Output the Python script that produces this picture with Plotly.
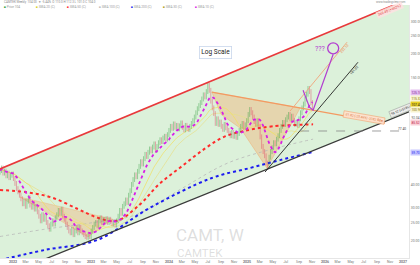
import pandas as pd
import plotly.graph_objects as go

# ---------------- data ----------------
closes = [
    47.5, 49.0, 46.0, 47.2,                 # Nov 2021
    44.5, 46.0, 43.5, 44.8, 45.5,           # Dec
    43.0, 40.5, 38.0, 36.5,                 # Jan 2022
    35.0, 33.5, 31.5, 32.5,                 # Feb
    30.5, 32.5, 34.0, 31.0, 30.2,           # Mar
    31.5, 29.5, 30.5, 28.5,                 # Apr
    27.0, 25.5, 27.5, 26.0, 27.0,           # May
    25.0, 24.0, 23.0, 24.5,                 # Jun
    25.5, 24.5, 26.5, 27.5,                 # Jul
    29.0, 28.0, 29.5, 27.0, 26.0,           # Aug
    24.5, 23.5, 22.5, 22.0,                 # Sep
    23.0, 21.5, 22.5, 23.5, 22.0,           # Oct
    23.5, 22.5, 22.0, 21.5,                 # Nov
    21.0, 20.8, 21.5, 21.0,                 # Dec
    22.5, 23.5, 24.5, 25.0, 24.0,           # Jan 2023
    25.5, 26.5, 25.0, 26.0,                 # Feb
    25.5, 26.2, 25.0, 26.0,                 # Mar
    25.2, 24.5, 25.0, 24.2, 25.5,           # Apr
    27.0, 29.0, 28.0, 30.5,                 # May
    31.5, 33.0, 32.0, 35.0,                 # Jun
    37.0, 40.0, 42.5, 45.0, 44.0,           # Jul
    47.0, 50.0, 53.0, 51.5,                 # Aug
    55.0, 58.0, 56.5, 59.5,                 # Sep
    62.0, 60.5, 63.5, 66.0, 61.0,           # Oct
    64.0, 67.0, 69.5, 68.0,                 # Nov
    71.0, 72.5, 70.0, 74.0,                 # Dec
    78.0, 82.0, 80.0, 84.5, 81.0,           # Jan 2024
    83.0, 79.5, 82.5, 85.5,                 # Feb
    81.0, 78.5, 83.0, 80.0,                 # Mar
    79.0, 82.0, 85.0, 88.0, 92.0,           # Apr
    97.0, 102.0, 106.0, 110.0,              # May
    115.0, 121.0, 118.0, 126.0,             # Jun
    136.0, 128.0, 112.0, 103.0, 96.0,       # Jul
    85.0, 90.0, 84.0, 86.5,                 # Aug
    82.0, 79.0, 84.0, 80.5,                 # Sep
    78.0, 75.0, 73.0, 76.0, 72.5,           # Oct
    74.0, 71.5, 75.0, 78.0,                 # Nov
    82.0, 85.0, 81.0, 83.5,                 # Dec
    88.0, 95.0, 101.0, 97.0, 92.0,          # Jan 2025
    87.0, 84.0, 88.0, 82.0,                 # Feb
    72.0, 64.0, 60.0, 57.0,                 # Mar
    52.0, 50.0, 56.0, 60.0, 63.0,           # Apr
    67.0, 66.0, 70.0, 73.0,                 # May
    78.0, 82.0, 86.0, 84.0,                 # Jun
    89.0, 92.0, 95.0, 90.0, 93.0,           # Jul
    88.0, 84.0, 86.0, 83.0,                 # Aug
    90.0, 97.0, 103.0, 108.0,               # Sep
    115.0, 122.0, 131.0, 126.0, 110.0,      # Oct
    104.0,                                  # Nov
]
first_open = 46.5

red_ma_dates = ["2021-11-01", "2022-03-01", "2022-07-01", "2022-11-01", "2023-02-01",
                "2023-05-01", "2023-08-15", "2023-11-15", "2024-03-01", "2024-06-15",
                "2024-09-15", "2025-01-01", "2025-05-01", "2025-11-06"]
red_ma_vals = [37.3, 36.4, 34.0, 29.5, 26.5, 25.5, 31.0, 40.0, 50.0, 62.0,
               72.0, 78.0, 82.0, 84.0]

blue_ma_dates = ["2021-11-01", "2022-05-31", "2023-01-29", "2023-10-05", "2024-07-20",
                 "2025-01-15", "2025-06-04", "2025-11-06"]
blue_ma_vals = [15.7, 17.8, 20.1, 30.0, 43.3, 49.0, 54.0, 59.7]

grey_ma_dates = ["2021-11-01", "2022-06-01", "2023-01-15", "2023-08-01", "2024-03-01",
                 "2024-10-01", "2025-05-01", "2025-11-06"]
grey_ma_vals = [21.0, 23.0, 25.0, 27.5, 38.0, 52.0, 62.0, 70.0]

upper_ch_dates = ["2021-11-01", "2027-01-29"]
upper_ch_vals = [48.4, 397.0]
lower_ch_dates = ["2022-05-31", "2027-01-29"]
lower_ch_vals = [15.9, 98.0]

neck_dates = ["2024-07-20", "2026-10-08"]
neck_vals = [125.0, 85.4]

steep_dates = ["2025-03-26", "2026-06-04"]
steep_vals = [46.6, 181.0]
upper_wedge_dates = ["2025-07-21", "2026-04-14"]
upper_wedge_vals = [99.0, 232.0]

support_dates = ["2025-09-06", "2026-12-17"]
support_vals = [77.4, 77.4]

tri_big_dates = ["2024-07-20", "2024-09-01", "2024-12-01", "2025-04-04", "2025-09-06"]
tri_big_vals = [125.0, 95.0, 80.0, 48.9, 102.8]
tri_small_dates = ["2022-02-03", "2023-04-14", "2022-12-18"]
tri_small_vals = [34.2, 26.0, 20.9]

proj_dates = ["2025-09-20", "2025-10-20", "2025-11-06", "2026-02-08"]
proj_vals = [128.0, 104.0, 100.0, 200.0]
target_date = ["2026-02-08"]
target_val = [215.0]

y_ticks = [20, 25, 30, 40, 150, 200, 250, 300]

# last-value tags on the price scale
tag_vals = [125.0, 115.0, 107.5, 101.0, 92.0, 85.5, 59.7]
tag_texts = ["125.10", "115.32", "107.48", "100.96", "92.04", "85.52", "59.70"]

# ---------------- build ----------------
dates = pd.date_range("2021-11-01", periods=len(closes), freq="W-MON")
s = pd.Series(closes, index=dates)
opens = [first_open] + closes[:-1]
wick = 0.03
highs = [max(o, c) * (1 + wick) for o, c in zip(opens, closes)]
lows = [min(o, c) * (1 - wick) for o, c in zip(opens, closes)]
ma10 = s.rolling(10, min_periods=1).mean()
ma20 = s.rolling(20, min_periods=1).mean()
ma30 = s.rolling(30, min_periods=1).mean()

UP, DN = "#2f9e3a", "#e0375a"

fig = go.Figure()

# green channel fill
fig.add_trace(go.Scatter(
    x=[upper_ch_dates[0], upper_ch_dates[1], lower_ch_dates[1], lower_ch_dates[0], upper_ch_dates[0]],
    y=[upper_ch_vals[0], upper_ch_vals[1], lower_ch_vals[1], lower_ch_vals[0], lower_ch_vals[0] * 0.9],
    fill="toself", fillcolor="#dcf1da", line=dict(width=0), mode="lines", hoverinfo="skip"))

# tan pattern fills
fig.add_trace(go.Scatter(x=tri_big_dates + tri_big_dates[:1], y=tri_big_vals + tri_big_vals[:1],
                         fill="toself", fillcolor="rgba(240,180,120,0.45)",
                         line=dict(width=0.6, color="rgba(240,170,110,0.8)"), mode="lines"))
fig.add_trace(go.Scatter(x=tri_small_dates + tri_small_dates[:1], y=tri_small_vals + tri_small_vals[:1],
                         fill="toself", fillcolor="rgba(240,180,120,0.4)",
                         line=dict(width=0.5, color="rgba(240,170,110,0.7)"), mode="lines"))

# MAs
fig.add_trace(go.Scatter(x=grey_ma_dates, y=grey_ma_vals, mode="lines", line_shape="spline",
                         line=dict(color="#b8b8b8", width=0.8, dash="dot")))
fig.add_trace(go.Scatter(x=dates, y=ma30, mode="lines", line=dict(color="#e6e08a", width=0.7)))
fig.add_trace(go.Scatter(x=dates, y=ma20, mode="lines", line=dict(color="#f0e060", width=0.7)))
fig.add_trace(go.Scatter(x=blue_ma_dates, y=blue_ma_vals, mode="lines", line_shape="spline",
                         line=dict(color="#1c1cf0", width=2, dash="dot")))
fig.add_trace(go.Scatter(x=red_ma_dates, y=red_ma_vals, mode="lines", line_shape="spline",
                         line=dict(color="#ff2b2b", width=2, dash="dot")))

# candles: wicks + bodies
for want_up, col in ((True, UP), (False, DN)):
    wx, wy, bx, bb, bh = [], [], [], [], []
    for d, o, h, l, c in zip(dates, opens, highs, lows, closes):
        if (c >= o) != want_up:
            continue
        wx += [d, d, None]
        wy += [l, h, None]
        bx.append(d)
        bb.append(min(o, c))
        bh.append(max(abs(c - o), min(o, c) * 0.006))
    fig.add_trace(go.Scatter(x=wx, y=wy, mode="lines", line=dict(color=col, width=0.6),
                             opacity=0.7, hoverinfo="skip"))
    fig.add_trace(go.Bar(x=bx, y=bh, base=bb, marker=dict(color=col, line=dict(width=0)),
                         width=4.2 * 86400000))
fig.add_trace(go.Scatter(x=dates, y=ma10, mode="lines",
                         line=dict(color="#d81ee8", width=1.8, dash="dot")))

# channel lines
fig.add_trace(go.Scatter(x=upper_ch_dates, y=upper_ch_vals, mode="lines",
                         line=dict(color="#e8393b", width=1.6)))
fig.add_trace(go.Scatter(x=lower_ch_dates, y=lower_ch_vals, mode="lines",
                         line=dict(color="#3a3a3a", width=1.3)))
fig.add_trace(go.Scatter(x=neck_dates, y=neck_vals, mode="lines",
                         line=dict(color="#f39a62", width=1.3)))
fig.add_trace(go.Scatter(x=steep_dates, y=steep_vals, mode="lines",
                         line=dict(color="#222222", width=0.9)))
fig.add_trace(go.Scatter(x=upper_wedge_dates, y=upper_wedge_vals, mode="lines",
                         line=dict(color="#f2a47a", width=0.9)))
fig.add_trace(go.Scatter(x=support_dates, y=support_vals, mode="lines",
                         line=dict(color="#888888", width=0.8, dash="dash")))
fig.add_trace(go.Scatter(x=proj_dates, y=proj_vals, mode="lines",
                         line=dict(color="#b23fd0", width=1.2)))
fig.add_trace(go.Scatter(x=target_date, y=target_val, mode="markers",
                         marker=dict(symbol="circle-open", size=11, color="#b23fd0",
                                     line=dict(width=1.3, color="#b23fd0"))))

# x ticks: 2-month TradingView style
tick_vals, tick_text = [], []
for yr in range(2022, 2028):
    for m in (1, 3, 5, 7, 9, 11):
        d = pd.Timestamp(year=yr, month=m, day=1)
        if d > pd.Timestamp("2027-01-20"):
            continue
        tick_vals.append(d)
        tick_text.append(f"<b>{yr}</b>" if m == 1 else d.strftime("%b"))

fig.update_layout(
    width=420, height=265, showlegend=False, barmode="overlay", bargap=0,
    margin=dict(l=0, r=11, t=5, b=7),
    paper_bgcolor="white", plot_bgcolor="white",
    font=dict(family="Roboto, Liberation Sans, sans-serif", color="#666"),
    xaxis=dict(range=["2021-11-01", "2027-01-29"], rangeslider=dict(visible=False),
               showgrid=False, zeroline=False, tickvals=tick_vals, ticktext=tick_text,
               tickfont=dict(size=3.5, color="#777"), ticks="", showline=True,
               linecolor="#e6e6e6", ticklabelstandoff=0),
    yaxis=dict(type="log", range=[1.207, 2.565], side="right", showgrid=False,
               tickvals=y_ticks, ticktext=[f"{v:.2f}" for v in y_ticks],
               tickfont=dict(size=3.5, color="#777"), ticks="", showline=True,
               linecolor="#e6e6e6", zeroline=False),
)

ann = []
# header
ann.append(dict(xref="paper", yref="paper", x=0.005, y=1.011, xanchor="left", yanchor="middle",
                text="CAMTEK Weekly  104.00  ▼ -5.44%  O 110.0 H 112.3 L 101.0 C 104.0",
                font=dict(size=3.0, color="#888"), showarrow=False))
ann.append(dict(xref="paper", yref="paper", x=0.998, y=1.011, xanchor="right", yanchor="middle",
                text="www.tradingview.com", font=dict(size=3.0, color="#888"), showarrow=False))
legend_items = [("#2f9e3a", "Price 104"), ("#d8d020", "SMA 20 (C)"), ("#ff2b2b", "SMA 50 (C)"),
                ("#bbbbbb", "SMA 100 (C)"), ("#1c1cf0", "SMA 200 (C)"), ("#b0a020", "SMA 30 (C)"),
                ("#d81ee8", "SMA 10 (C)")]
lx = 0.004
for col, txt in legend_items:
    ann.append(dict(xref="paper", yref="paper", x=lx, y=0.992, xanchor="left", yanchor="middle",
                    text=f"<span style='color:{col}'>■</span> {txt}",
                    font=dict(size=3.2, color="#999"), showarrow=False))
    lx += 0.078
# watermark
ann.append(dict(xref="paper", yref="paper", x=0.513, y=0.09, xanchor="center", yanchor="middle",
                text="CAMT, W", font=dict(size=17, color="rgba(160,160,160,0.35)"), showarrow=False))
ann.append(dict(xref="paper", yref="paper", x=0.49, y=0.02, xanchor="center", yanchor="middle",
                text="CAMTEK", font=dict(size=11.5, color="rgba(160,160,160,0.35)"), showarrow=False))
# log scale box
ann.append(dict(xref="paper", yref="paper", x=0.526, y=0.813, xanchor="center", yanchor="middle",
                text="Log Scale", font=dict(size=6.5, color="#222"), showarrow=False,
                bgcolor="white", bordercolor="#c9d6ec", borderwidth=0.8, borderpad=1.5))
# question marks near target
ann.append(dict(x=target_date[0], y=2.33, xref="x", yref="y", xanchor="right", yanchor="middle",
                text="???", font=dict(size=7, color="#b23fd0"), showarrow=False, xshift=-5))
# line labels
ann.append(dict(x="2026-11-01", y=2.54, xref="x", yref="y", text="369.48 (+662%)",
                textangle=-23, font=dict(size=3.5, color="#e8393b"), showarrow=False,
                bgcolor="rgba(255,225,225,0.8)"))
ann.append(dict(x="2026-07-01", y=1.96, xref="x", yref="y", text="-31.82 (-25.46%) -3182 <b>52w</b>",
                textangle=10, font=dict(size=3.2, color="#e07040"), showarrow=False,
                bgcolor="rgba(253,225,205,0.95)", bordercolor="#f39a62", borderwidth=0.5))
ann.append(dict(x="2026-04-01", y=2.33, xref="x", yref="y", text="232.10",
                textangle=-50, font=dict(size=3.5, color="#f08050"), showarrow=False))
ann.append(dict(x="2026-05-20", y=2.215, xref="x", yref="y", text="181.02",
                textangle=-48, font=dict(size=3.5, color="#333"), showarrow=False))
ann.append(dict(x="2026-12-20", y=2.0, xref="x", yref="y", text="98.12 (+518%)",
                textangle=-22, font=dict(size=3.2, color="#333"), showarrow=False,
                bgcolor="rgba(235,235,235,0.95)", bordercolor="#888", borderwidth=0.4))
ann.append(dict(x="2026-12-25", y=1.889, xref="x", yref="y", text="77.40", yshift=2,
                font=dict(size=3.2, color="#444"), showarrow=False))
# right axis tags
tag_styles = [("#e3bdf0", "#7a2a90"), ("#f8f4d0", "#807000"), ("#e8d020", "#222"),
              ("#f8f4d0", "#807000"), ("#ffffff", "#555"), ("#f9d0d8", "#c02040"),
              ("#c8c8ff", "#1c1cf0")]
for v, tx, (bg, fc) in zip(tag_vals, tag_texts, tag_styles):
    import math
    ann.append(dict(xref="paper", yref="y", x=1.003, y=math.log10(v), xanchor="left",
                    yanchor="middle", text=tx, font=dict(size=3.2, color=fc), bgcolor=bg,
                    showarrow=False, borderpad=0.5))
fig.update_layout(annotations=ann)

fig.write_html("out.html")
